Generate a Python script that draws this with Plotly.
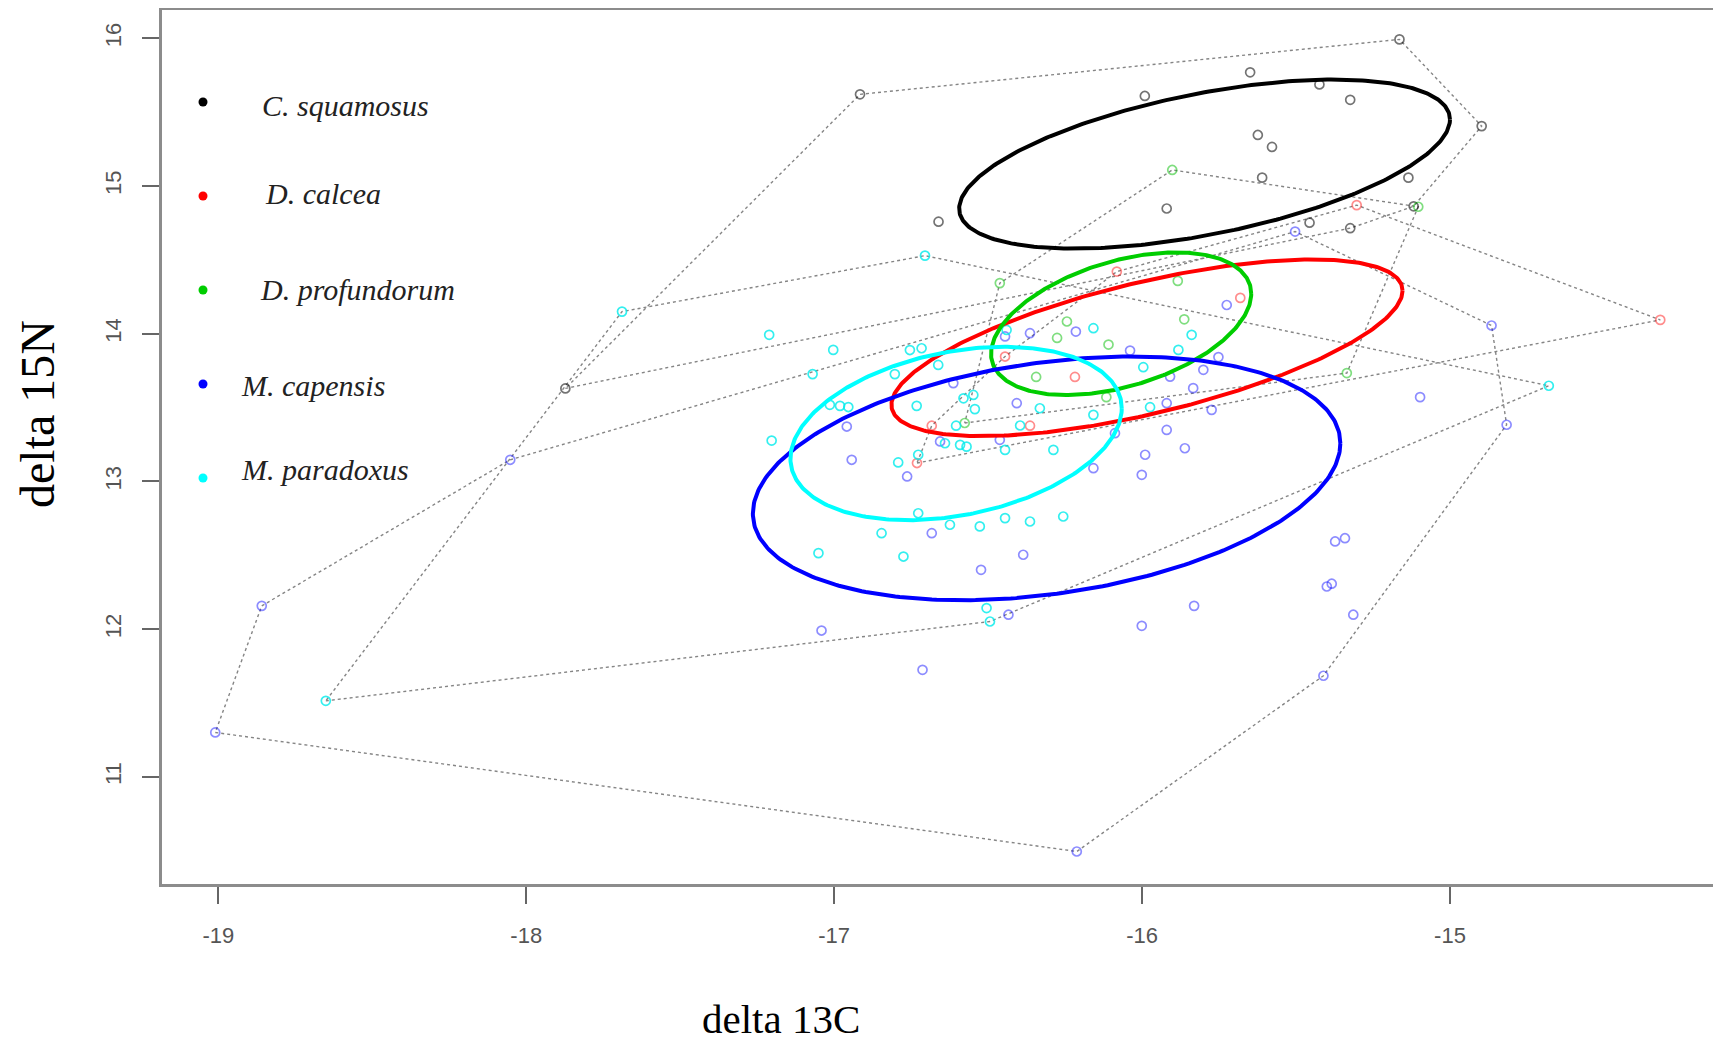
import numpy as np
import plotly.graph_objects as go

# ---------------- data (delta 13C, delta 15N) ----------------
species = ["C. squamosus", "D. calcea", "D. profundorum", "M. capensis", "M. paradoxus"]

csq_x = [-16.916, -15.164, -14.897, -15.118, -15.991, -15.649, -15.424, -15.324, -15.624,
         -15.578, -15.610, -15.135, -15.920, -16.661, -15.456, -15.324, -17.873]
csq_y = [15.621, 15.993, 15.406, 14.863, 15.610, 15.770, 15.688, 15.584, 15.346,
         15.265, 15.057, 15.057, 14.848, 14.759, 14.752, 14.715, 13.630]

dca_x = [-14.317, -15.303, -15.681, -16.082, -16.445, -16.218, -16.364, -16.683, -16.731]
dca_y = [14.094, 14.871, 14.243, 14.421, 13.846, 13.708, 13.378, 13.378, 13.125]

dpr_x = [-15.902, -15.103, -15.335, -16.462, -15.884, -16.244, -16.276, -16.344, -16.576,
         -15.863, -16.109, -16.116]
dpr_y = [15.109, 14.860, 13.734, 14.343, 14.358, 14.083, 13.972, 13.708, 13.396,
         14.098, 13.927, 13.571]

mca_x = [-19.010, -18.859, -16.212, -15.411, -15.314, -14.816, -14.865, -15.503, -15.097,
         -15.725, -16.039, -15.752, -15.909, -15.801, -15.834, -15.920, -15.774, -16.088,
         -15.920, -15.861, -15.990, -16.001, -16.158, -15.373, -15.341, -16.445, -16.364,
         -16.215, -16.613, -16.407, -16.959, -16.656, -16.462, -16.943, -16.763, -16.683,
         -16.386, -16.523, -17.041, -16.713, -16.434, -15.400, -15.384, -15.831, -16.001,
         -18.052]
mca_y = [11.301, 12.158, 10.495, 11.685, 12.098, 13.384, 14.056, 14.692, 13.571,
         14.195, 13.886, 13.842, 13.710, 13.756, 13.632, 13.530, 13.485, 13.327,
         13.349, 13.225, 13.181, 13.045, 13.090, 12.594, 12.616, 13.982, 14.004,
         14.015, 13.666, 13.530, 13.372, 13.271, 13.282, 13.147, 13.034, 12.650,
         12.504, 12.402, 11.991, 11.725, 12.098, 12.289, 12.308, 12.158, 12.023,
         13.147]

mpa_x = [-17.689, -16.705, -18.651, -14.679, -17.211, -17.003, -17.070, -17.203, -17.014,
         -16.981, -16.954, -16.803, -16.754, -16.716, -16.662, -16.732, -16.580, -16.548,
         -16.543, -16.604, -16.640, -16.591, -16.570, -16.440, -16.445, -16.396, -16.332,
         -16.288, -16.158, -16.158, -16.792, -16.727, -16.727, -16.846, -16.624, -16.527,
         -16.445, -16.364, -16.256, -17.051, -16.775, -16.505, -16.494, -15.839, -15.882,
         -15.996, -15.974]
mpa_y = [14.150, 14.529, 11.515, 13.648, 13.993, 13.891, 13.727, 13.277, 13.519,
         13.512, 13.504, 13.727, 13.890, 13.902, 13.789, 13.512, 13.563, 13.586,
         13.490, 13.378, 13.259, 13.248, 13.236, 14.026, 13.214, 13.379, 13.496,
         13.214, 14.038, 13.451, 13.129, 13.181, 12.785, 12.650, 12.707, 12.696,
         12.752, 12.729, 12.763, 12.515, 12.492, 12.143, 12.052, 13.993, 13.891,
         13.774, 13.503]

# standard ellipses: centre, sd in x, sd in y, correlation
ell_cx = [-15.797, -15.984, -16.068, -16.310, -16.604]
ell_cy = [15.149, 13.905, 14.068, 13.021, 13.325]
ell_sx = [0.797, 0.830, 0.4225, 0.954, 0.538]
ell_sy = [0.572, 0.598, 0.483, 0.825, 0.587]
ell_rho = [0.527, 0.646, 0.42, 0.288, 0.29]

x_ticks = [-19, -18, -17, -16, -15]
y_ticks = [11, 12, 13, 14, 15, 16]

# ---------------- styles ----------------
groups_x = [csq_x, dca_x, dpr_x, mca_x, mpa_x]
groups_y = [csq_y, dca_y, dpr_y, mca_y, mpa_y]
line_cols = ["#000000", "#ff0000", "#00cd00", "#0000ff", "#00ffff"]
pt_cols = ["rgba(0,0,0,0.55)", "rgba(255,0,0,0.45)", "rgba(0,190,0,0.5)",
           "rgba(0,0,255,0.45)", "rgba(0,235,235,0.8)"]


def convex_hull(xs, ys):
    pts = sorted(set(zip(xs, ys)))
    if len(pts) <= 2:
        return pts

    def cross(o, a, b):
        return (a[0] - o[0]) * (b[1] - o[1]) - (a[1] - o[1]) * (b[0] - o[0])

    lower, upper = [], []
    for p in pts:
        while len(lower) >= 2 and cross(lower[-2], lower[-1], p) <= 0:
            lower.pop()
        lower.append(p)
    for p in reversed(pts):
        while len(upper) >= 2 and cross(upper[-2], upper[-1], p) <= 0:
            upper.pop()
        upper.append(p)
    return lower[:-1] + upper[:-1]


fig = go.Figure()

# hulls
for gx, gy in zip(groups_x, groups_y):
    h = convex_hull(gx, gy)
    h = h + [h[0]]
    fig.add_trace(go.Scatter(x=[p[0] for p in h], y=[p[1] for p in h], mode="lines",
                             line=dict(color="#858585", width=1.4, dash="dot"),
                             hoverinfo="skip", showlegend=False))

# points
for gx, gy, c, name in zip(groups_x, groups_y, pt_cols, species):
    fig.add_trace(go.Scatter(x=gx, y=gy, mode="markers", name=name,
                             marker=dict(symbol="circle-open", size=9, color=c,
                                         line=dict(width=1.7, color=c)),
                             showlegend=False))

# ellipses
t = np.linspace(0, 2 * np.pi, 361)
for i in range(5):
    ex = ell_cx[i] + ell_sx[i] * np.cos(t)
    ey = ell_cy[i] + ell_sy[i] * (ell_rho[i] * np.cos(t) + np.sqrt(1 - ell_rho[i] ** 2) * np.sin(t))
    fig.add_trace(go.Scatter(x=ex, y=ey, mode="lines",
                             line=dict(color=line_cols[i], width=4),
                             hoverinfo="skip", showlegend=False))

# ---------------- layout ----------------
OFF = 8                      # page body margin
W, H = 1713, 1034
L, R, T, B = 154, 5, 2, 158
pw, ph = W - L - R, H - T - B


def px(xs):                  # screen pixel -> paper fraction
    return (xs - OFF - L) / pw


def py(ys):
    return (H - B - (ys - OFF)) / ph


shapes = []
annotations = []
leg_y = [102, 196, 290, 384, 478]
leg_tx = [260, 263, 258, 239, 239]
leg_ty = [106, 193, 289, 386, 469]
for i in range(5):
    shapes.append(dict(type="circle", xref="paper", yref="paper", xsizemode="pixel", ysizemode="pixel",
                       xanchor=px(203), yanchor=py(leg_y[i]), x0=-4.5, x1=4.5, y0=-4.5, y1=4.5,
                       fillcolor=line_cols[i], line=dict(width=0)))
    annotations.append(dict(text="<i>%s</i>" % species[i], xref="paper", yref="paper",
                            x=px(leg_tx[i]), y=py(leg_ty[i]), xanchor="left", yanchor="middle",
                            showarrow=False,
                            font=dict(family="Liberation Serif", size=30, color="#222222")))

annotations.append(dict(text="delta 13C", xref="paper", yref="paper", x=px(781), y=py(1019),
                        xanchor="center", yanchor="middle", showarrow=False,
                        font=dict(family="Liberation Serif", size=41, color="#000000")))
annotations.append(dict(text="delta 15N", xref="paper", yref="paper", x=px(38), y=py(414),
                        xanchor="center", yanchor="middle", showarrow=False, textangle=-90,
                        font=dict(family="Liberation Serif", size=48, color="#000000")))

axis_common = dict(showgrid=False, zeroline=False, showline=True, mirror=True,
                   linecolor="#8c8c8c", linewidth=3, ticks="outside", ticklen=17,
                   tickwidth=1.5, tickcolor="#666666", automargin=False,
                   tickfont=dict(family="Liberation Sans", size=22, color="#555555"))

fig.update_layout(
    width=W, height=H, margin=dict(l=L, r=R, t=T, b=B),
    paper_bgcolor="white", plot_bgcolor="white",
    xaxis=dict(range=[-19.183, -14.136], tickvals=x_ticks, ticktext=[str(v) for v in x_ticks],
               ticklabelstandoff=13, **axis_common),
    yaxis=dict(range=[10.275, 16.192], tickvals=y_ticks, ticktext=[str(v) for v in y_ticks],
               tickangle=-90, ticklabelstandoff=12, **axis_common),
    shapes=shapes, annotations=annotations, showlegend=False,
)

fig.write_html("out.html")
